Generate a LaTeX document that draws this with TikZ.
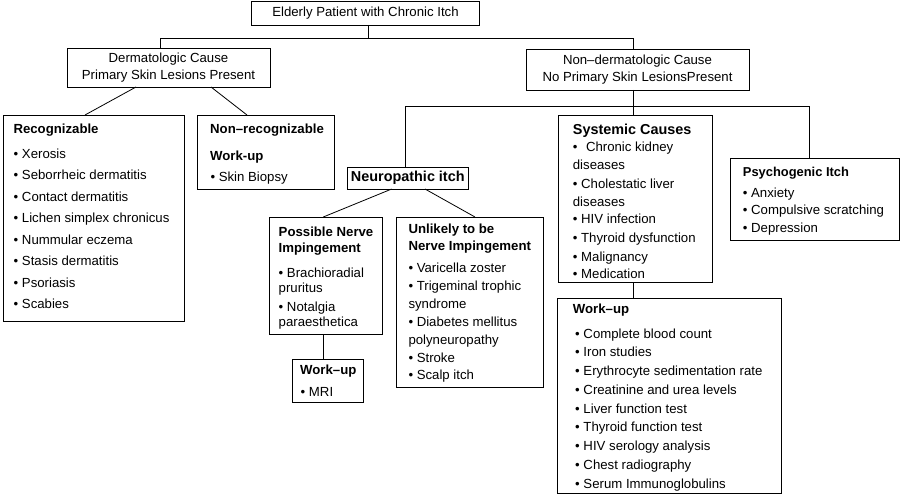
\documentclass[tikz,border=0pt]{standalone}
\usepackage{fontspec}
\setmainfont{Liberation Sans}
\begin{document}
\begin{tikzpicture}[x=1pt,y=-1pt,
  box/.style={draw, line width=0.8pt, anchor=north west, inner sep=0pt, outer sep=0pt},
  ctext/.style={align=center, font=\fontsize{13.2}{17}\selectfont},
  lbl/.style={anchor=base west, inner sep=0pt, font=\fontsize{13.2}{16}\selectfont},
  ttl/.style={anchor=base west, inner sep=0pt, font=\fontsize{13.2}{16}\selectfont\bfseries},
  bigttl/.style={anchor=base west, inner sep=0pt, font=\fontsize{14.4}{17}\selectfont\bfseries},
  conn/.style={line width=0.8pt}]
\useasboundingbox (0,0) rectangle (900,495);

% ---- boxes ----
\node[box, ctext, minimum width=228pt, minimum height=24pt] (top) at (251.5,1) {Elderly Patient with Chronic Itch};
\node[box, ctext, minimum width=203pt, minimum height=39pt] (derm) at (67,48) {Dermatologic Cause\\Primary Skin Lesions Present};
\node[box, ctext, minimum width=223pt, minimum height=41pt] (ndm) at (526,49) {Non–dermatologic Cause\\No Primary Skin LesionsPresent};
\node[box, minimum width=181pt, minimum height=206pt] (rec) at (3.5,115) {};
\node[box, minimum width=137pt, minimum height=74pt] (nonrec) at (197,115) {};
\node[box, minimum width=121pt, minimum height=22pt, font=\fontsize{14.4}{17}\selectfont\bfseries] (neuro) at (347.3,167) {Neuropathic itch};
\node[box, minimum width=112.5pt, minimum height=117pt] (pos) at (269.5,217) {};
\node[box, minimum width=71pt, minimum height=43pt] (mri) at (292,359) {};
\node[box, minimum width=146.5pt, minimum height=170pt] (unl) at (396.5,217) {};
\node[box, minimum width=154pt, minimum height=167pt] (sys) at (558.3,115) {};
\node[box, minimum width=169pt, minimum height=81.7pt] (psy) at (730,158.3) {};
\node[box, minimum width=223.7pt, minimum height=195pt] (wk) at (557.3,298.3) {};

% ---- texts ----
\node[ttl] (rect) at (13.3,133) {Recognizable};
\foreach \t [count=\i] in {Xerosis, Seborrheic dermatitis, Contact dermatitis, Lichen simplex chronicus, Nummular eczema, Stasis dermatitis, Psoriasis, Scabies}
  \node[lbl] (rec-\i) at (13.5,{158+21.57*(\i-1)}) {• \t};

\node[ttl] (nonrect) at (210,133) {Non–recognizable};
\node[ttl] (nonrecw) at (210,160) {Work-up};
\node[lbl] (nonrec-1) at (210.3,181) {• Skin Biopsy};

\node[ttl] (post1) at (278.5,236.5) {Possible Nerve};
\node[ttl] (post2) at (278.5,252) {Impingement};
\node[lbl] (pos-1) at (278.5,277.5) {• Brachioradial};
\node[lbl] (pos-2) at (278.5,292.5) {pruritus};
\node[lbl] (pos-3) at (278.5,311.5) {• Notalgia};
\node[lbl] (pos-4) at (278.5,326.5) {paraesthetica};

\node[ttl] (mrit) at (300,374.5) {Work–up};
\node[lbl] (mri-1) at (300.5,396.5) {• MRI};

\node[ttl] (unlt1) at (408.3,233.5) {Unlikely to be};
\node[ttl] (unlt2) at (408.3,250) {Nerve Impingement};
\node[lbl] (unl-1) at (408.3,272.5) {• Varicella zoster};
\node[lbl] (unl-2) at (408.3,290.5) {• Trigeminal trophic};
\node[lbl] (unl-3) at (408.3,308) {syndrome};
\node[lbl] (unl-4) at (408.3,326.3) {• Diabetes mellitus};
\node[lbl] (unl-5) at (408.3,344.3) {polyneuropathy};
\node[lbl] (unl-6) at (408.3,362) {• Stroke};
\node[lbl] (unl-7) at (408.3,379.5) {• Scalp itch};

\node[bigttl] (syst) at (572.7,134.5) {Systemic Causes};
\node[lbl] (sys-1) at (572.7,151) {•\hspace{8.5pt}Chronic kidney};
\node[lbl] (sys-2) at (572.7,169.5) {diseases};
\node[lbl] (sys-3) at (572.7,188) {• Cholestatic liver};
\node[lbl] (sys-4) at (572.7,206) {diseases};
\node[lbl] (sys-5) at (572.7,223.5) {• HIV infection};
\node[lbl] (sys-6) at (572.7,242) {• Thyroid dysfunction};
\node[lbl] (sys-7) at (572.7,261.5) {• Malignancy};
\node[lbl] (sys-8) at (572.7,278) {• Medication};

\node[ttl, font=\fontsize{12.9}{16}\selectfont\bfseries] (psyt) at (742.7,176) {Psychogenic Itch};
\node[lbl] (psy-1) at (742.7,197.5) {• Anxiety};
\node[lbl] (psy-2) at (742.7,214.5) {• Compulsive scratching};
\node[lbl] (psy-3) at (742.7,232.5) {• Depression};

\node[ttl] (wkt) at (572.7,313.5) {Work–up};
\foreach \t [count=\i] in {Complete blood count, Iron studies, Erythrocyte sedimentation rate, Creatinine and urea levels, Liver function test, Thyroid function test, HIV serology analysis, Chest radiography, Serum Immunoglobulins}
  \node[lbl] (wk-\i) at (575,{338+18.75*(\i-1)}) {• \t};

% ---- connectors ----
\draw[conn] (top.south -| 368,0) |- (160,38) -- (derm.north -| 160,0);
\draw[conn] (368,38) -| (ndm.north -| 633,0);
\draw[conn] (derm.south -| 136,0) -- (rec.north -| 85,0);
\draw[conn] (derm.south -| 211,0) -- (nonrec.north -| 247,0);
\draw[conn] (ndm.south -| 633,0) -- (sys.north -| 633,0);
\draw[conn] (neuro.north -| 405,0) -- (405,106) -- (809.3,106) -- (psy.north -| 809.3,0);
\draw[conn] (neuro.south -| 391.7,0) -- (pos.north -| 323.3,0);
\draw[conn] (neuro.south -| 425,0) -- (unl.north -| 475,0);
\draw[conn] (pos.south -| 323,0) -- (mri.north -| 323,0);
\draw[conn] (sys.south -| 633,0) -- (wk.north -| 633,0);
\end{tikzpicture}
\end{document}
